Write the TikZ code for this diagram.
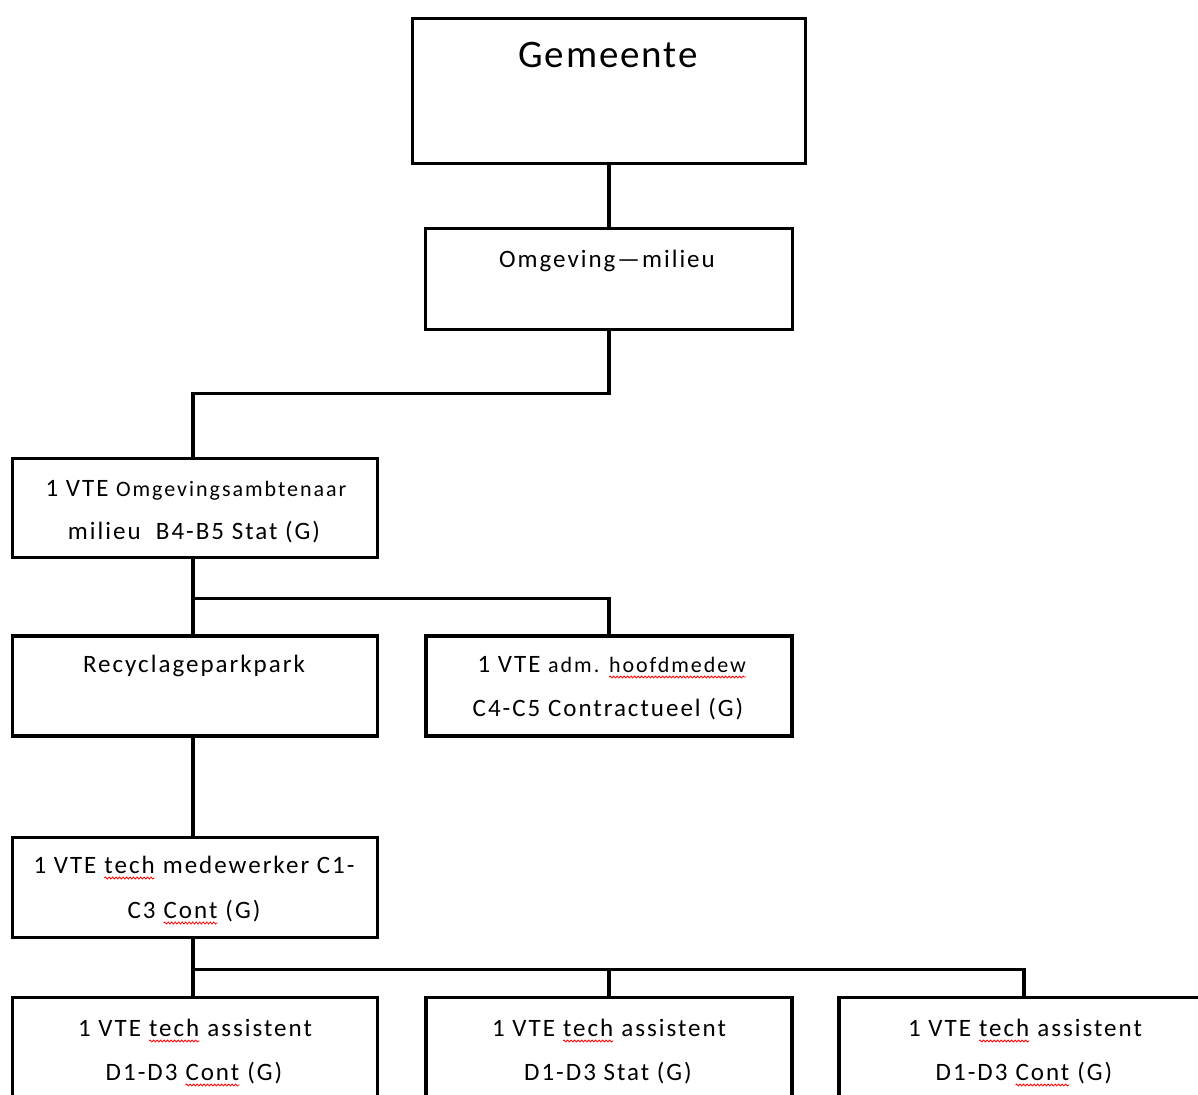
\documentclass[tikz,border=0pt]{standalone}
\usepackage{fontspec}
\setmainfont{Carlito}
\usetikzlibrary{decorations.pathmorphing}
\newcommand\spellerr[1]{\tikz[baseline=(w.base)]{\node[inner sep=0pt, outer sep=0pt, anchor=base] (w) {#1};
  \draw[red, line width=0.8pt, decorate, decoration={snake, amplitude=1pt, segment length=3.5pt}] ([yshift=-5pt]w.base west) -- ([yshift=-5pt]w.base east);}}
\newcommand\mainsize{\fontsize{25}{30}\selectfont\addfontfeature{LetterSpace=8}}
\newcommand\smallsize{\fontsize{22}{26}\selectfont\addfontfeature{LetterSpace=9}}
\begin{document}
\begin{tikzpicture}[x=1pt,y=-1pt,
  box/.style={draw, line width=3.2pt, inner sep=0pt, minimum width=#1},
  conn/.style={line width=3.2pt},
  txt/.style={inner sep=0pt, anchor=base, font=\mainsize}]
\useasboundingbox (0,0) rectangle (1198,1094);
\fill[white] (0,0) rectangle (1198,1094);
% boxes
\node[box=393, minimum height=145] (gem) at (609,91) {};
\node[box=367, minimum height=101] (omg) at (609,279) {};
\node[box=365, minimum height=99] (amb) at (195,508) {};
\node[box=365, minimum height=100] (rec) at (195,686) {};
\node[box=366, minimum height=100] (adm) at (609,686) {};
\node[box=365, minimum height=100] (med) at (195,887.5) {};
\node[box=365, minimum height=200] (as1) at (195,1097.5) {};
\node[box=366, minimum height=200] (as2) at (609,1097.5) {};
\node[box=400, minimum height=200] (as3) at (1039,1097.5) {};
% texts
\node[txt, font=\fontsize{39}{45}\selectfont\addfontfeature{LetterSpace=5}] (gemt) at (608,68) {Gemeente};
\node[txt] (omgt) at (607,267) {Omgeving—milieu};
\node[txt] (amb1) at (196,496) {1 VTE {\smallsize Omgevingsambtenaar}};
\node[txt] (amb2) at (194,539) {milieu\ \ B4-B5 Stat (G)};
\node[txt] (rect) at (194,672) {Recyclageparkpark};
\node[txt] (adm1) at (612,672) {1 VTE {\smallsize adm. \spellerr{hoofdmedew}}};
\node[txt] (adm2) at (608,716) {C4-C5 Contractueel (G)};
\node[txt] (med1) at (194,873) {1 VTE \spellerr{tech} medewerker C1-};
\node[txt] (med2) at (194,918) {C3 \spellerr{Cont} (G)};
\node[txt] (as1a) at (195,1036) {1 VTE \spellerr{tech} assistent};
\node[txt] (as1b) at (194,1080) {D1-D3 \spellerr{Cont} (G)};
\node[txt] (as2a) at (609,1036) {1 VTE \spellerr{tech} assistent};
\node[txt] (as2b) at (608,1080) {D1-D3 Stat (G)};
\node[txt] (as3a) at (1025,1036) {1 VTE \spellerr{tech} assistent};
\node[txt] (as3b) at (1024,1080) {D1-D3 \spellerr{Cont} (G)};
% connectors
\draw[conn] (gem.south) -- (omg.north);
\draw[conn] (omg.south) -- ++(0,62) -| ([xshift=-2pt]amb.north);
\draw[conn] ([xshift=-2pt]amb.south) -- ([xshift=-2pt]rec.north);
\draw[conn] ([xshift=-2pt]amb.south) -- ++(0,39) -| (adm.north);
\draw[conn] ([xshift=-2pt]rec.south) -- ([xshift=-2pt]med.north);
\draw[conn] ([xshift=-2pt]med.south) -- ([xshift=-2pt]as1.north);
\draw[conn] ([xshift=-2pt]med.south) -- ++(0,30) -| (as2.north);
\draw[conn] ([xshift=-2pt]med.south) -- ++(0,30) -| ([xshift=-15pt]as3.north);
\end{tikzpicture}
\end{document}
